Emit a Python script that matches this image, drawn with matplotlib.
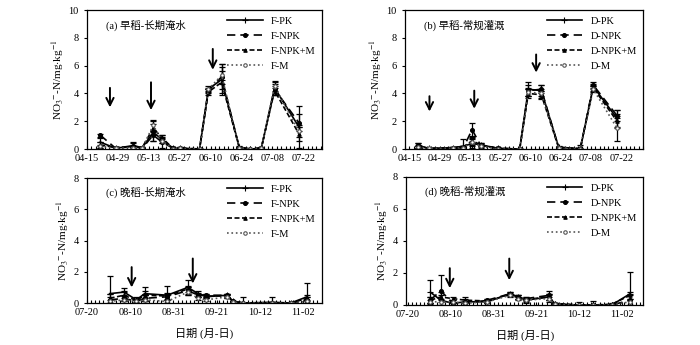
import datetime as dt

import matplotlib

matplotlib.use("Agg")
import matplotlib.pyplot as plt
from matplotlib.ticker import FixedLocator, MultipleLocator

plt.rcParams["font.family"] = ["Liberation Serif", "Noto Sans CJK SC"]
plt.rcParams["mathtext.fontset"] = "stix"
plt.rcParams["font.size"] = 7.5

# ---- early rice, continuous flooding (a) ----
a_dates = ["04-21", "04-28", "05-06", "05-10", "05-15", "05-19", "05-24", "05-27",
           "06-05", "06-09", "06-15", "06-23", "06-28", "07-03", "07-09", "07-20"]
a_pk = [0.5, 0.05, 0.25, 0.1, 1.2, 0.7, 0.05, 0.05, 0.0, 4.3, 5.0, 0.15, 0.0, 0.05, 4.4, 1.6]
a_npk = [1.0, 0.05, 0.2, 0.05, 1.0, 0.5, 0.05, 0.1, 0.0, 4.2, 5.2, 0.1, 0.0, 0.05, 4.3, 1.9]
a_npkm = [0.3, 0.1, 0.15, 0.1, 1.5, 0.8, 0.05, 0.05, 0.0, 4.1, 4.8, 0.1, 0.0, 0.1, 4.2, 1.1]
a_m = [0.2, 0.05, 0.1, 0.05, 1.7, 0.6, 0.0, 0.05, 0.0, 4.3, 5.3, 0.1, 0.0, 0.05, 4.5, 1.3]
a_pk_err = [0.3, 0.1, 0.25, 0.05, 0.6, 0.3, 0.05, 0.1, 0.0, 0.2, 1.1, 0.05, 0.0, 0.05, 0.5, 1.5]
a_npk_err = [0.1, 0.05, 0.2, 0.05, 0.4, 0.4, 0.05, 0.05, 0.0, 0.15, 0.9, 0.05, 0.0, 0.05, 0.4, 0.6]
a_npkm_err = [0.2, 0.05, 0.1, 0.05, 0.5, 0.2, 0.05, 0.05, 0.0, 0.2, 0.8, 0.05, 0.0, 0.05, 0.3, 0.5]
a_m_err = [0.1, 0.05, 0.1, 0.05, 0.4, 0.2, 0.0, 0.05, 0.0, 0.1, 0.6, 0.05, 0.0, 0.05, 0.3, 0.4]

# ---- early rice, conventional irrigation (b) ----
b_dates = ["04-19", "04-24", "05-05", "05-10", "05-14", "05-18", "05-26",
           "06-05", "06-09", "06-15", "06-23", "07-03", "07-09", "07-20"]
b_pk = [0.25, 0.05, 0.1, 0.2, 0.4, 0.3, 0.05, 0.0, 4.3, 4.2, 0.15, 0.0, 4.5, 2.2]
b_npk = [0.3, 0.0, 0.05, 0.1, 1.4, 0.25, 0.05, 0.0, 4.2, 4.3, 0.1, 0.0, 4.6, 2.4]
b_npkm = [0.2, 0.05, 0.1, 0.15, 0.6, 0.3, 0.05, 0.0, 4.0, 3.9, 0.1, 0.05, 4.4, 2.0]
b_m = [0.15, 0.05, 0.05, 0.1, 0.5, 0.2, 0.0, 0.0, 4.1, 4.0, 0.1, 0.0, 4.3, 1.5]
b_pk_err = [0.15, 0.05, 0.05, 0.5, 0.3, 0.1, 0.05, 0.0, 0.5, 0.4, 0.05, 0.3, 0.2, 0.6]
b_npk_err = [0.1, 0.0, 0.05, 0.1, 0.45, 0.1, 0.05, 0.0, 0.4, 0.3, 0.05, 0.0, 0.2, 0.4]
b_npkm_err = [0.1, 0.05, 0.05, 0.1, 0.3, 0.1, 0.05, 0.0, 0.3, 0.3, 0.05, 0.05, 0.2, 0.5]
b_m_err = [0.05, 0.05, 0.05, 0.1, 0.3, 0.1, 0.0, 0.0, 0.3, 0.3, 0.05, 0.0, 0.2, 0.9]

# ---- late rice, continuous flooding (c) ----
c_dates = ["07-31", "08-07", "08-13", "08-17", "08-28", "09-07", "09-12", "09-16",
           "09-26", "09-29", "10-04", "10-18", "10-27", "11-04"]
c_pk = [0.6, 0.7, 0.2, 0.6, 0.5, 1.0, 0.6, 0.4, 0.5, 0.1, 0.0, 0.05, 0.0, 0.4]
c_npk = [0.2, 0.3, 0.1, 0.3, 0.4, 0.8, 0.5, 0.5, 0.5, 0.1, 0.0, 0.0, 0.0, 0.2]
c_npkm = [0.3, 0.5, 0.15, 0.5, 0.45, 0.9, 0.55, 0.45, 0.45, 0.1, 0.0, 0.0, 0.0, 0.3]
c_m = [0.1, 0.2, 0.1, 0.2, 0.1, 0.7, 0.3, 0.2, 0.4, 0.05, 0.0, 0.0, 0.0, 0.1]
c_pk_err = [1.1, 0.25, 0.2, 0.45, 0.6, 0.5, 0.2, 0.1, 0.1, 0.05, 0.4, 0.35, 0.05, 0.9]
c_npk_err = [0.2, 0.2, 0.1, 0.2, 0.2, 0.2, 0.1, 0.1, 0.1, 0.05, 0.0, 0.0, 0.0, 0.2]
c_npkm_err = [0.3, 0.3, 0.1, 0.3, 0.2, 0.2, 0.1, 0.1, 0.1, 0.05, 0.0, 0.0, 0.0, 0.2]
c_m_err = [0.1, 0.1, 0.1, 0.1, 0.1, 0.2, 0.1, 0.1, 0.1, 0.05, 0.0, 0.0, 0.0, 0.1]

# ---- late rice, conventional irrigation (d) ----
d_dates = ["07-31", "08-05", "08-11", "08-17", "08-28", "09-08", "09-12", "09-16",
           "09-27", "09-30", "10-12", "10-19", "10-28", "11-06"]
d_pk = [0.8, 0.3, 0.1, 0.2, 0.2, 0.7, 0.5, 0.3, 0.5, 0.05, 0.0, 0.0, 0.0, 0.7]
d_npk = [0.3, 0.9, 0.1, 0.1, 0.3, 0.7, 0.5, 0.4, 0.6, 0.05, 0.0, 0.0, 0.0, 0.3]
d_npkm = [0.3, 0.5, 0.4, 0.3, 0.25, 0.65, 0.5, 0.35, 0.5, 0.1, 0.0, 0.0, 0.05, 0.6]
d_m = [0.2, 0.2, 0.2, 0.1, 0.2, 0.6, 0.4, 0.3, 0.4, 0.05, 0.0, 0.0, 0.0, 0.2]
d_pk_err = [0.75, 0.3, 0.1, 0.3, 0.1, 0.1, 0.1, 0.2, 0.2, 0.05, 0.2, 0.25, 0.05, 1.35]
d_npk_err = [0.2, 1.0, 0.1, 0.1, 0.1, 0.1, 0.1, 0.1, 0.3, 0.05, 0.0, 0.0, 0.0, 0.3]
d_npkm_err = [0.2, 0.3, 0.1, 0.1, 0.1, 0.1, 0.1, 0.1, 0.2, 0.05, 0.0, 0.0, 0.05, 0.2]
d_m_err = [0.1, 0.2, 0.1, 0.1, 0.1, 0.1, 0.1, 0.1, 0.2, 0.05, 0.0, 0.0, 0.0, 0.2]

early_ticks = ["04-15", "04-29", "05-13", "05-27", "06-10", "06-24", "07-08", "07-22"]
late_ticks = ["07-20", "08-10", "08-31", "09-21", "10-12", "11-02"]


def day(md, start):
    m, d = (int(v) for v in md.split("-"))
    s_m, s_d = (int(v) for v in start.split("-"))
    return (dt.date(2015, m, d) - dt.date(2015, s_m, s_d)).days


def draw(ax, start, dates, series, errs, labels, ticks, xlim, ymax, ystep, title, arrows):
    x = [day(s, start) for s in dates]
    styles = [
        dict(ls="-", marker="+", ms=4, color="black", mfc="black"),
        dict(ls=(0, (5, 3)), marker="o", ms=2.8, color="black", mfc="black"),
        dict(ls=(0, (3, 1.5)), marker="^", ms=2.5, color="black", mfc="black"),
        dict(ls=":", marker="o", ms=2.5, color="#555555", mfc="white"),
    ]
    for vals, err, lab, st in zip(series, errs, labels, styles):
        ax.errorbar(x, vals, yerr=err, fmt="none", capsize=2.5, elinewidth=0.9,
                    ecolor="black", capthick=0.9)
        ax.plot(x, vals, label=lab, lw=1.2, mew=0.8, **st)
    ax.set_xlim(*xlim)
    ax.set_ylim(0, ymax)
    ax.yaxis.set_major_locator(MultipleLocator(ystep))
    ax.xaxis.set_major_locator(FixedLocator([day(t, start) for t in ticks]))
    ax.set_xticklabels(ticks)
    ax.xaxis.set_minor_locator(MultipleLocator(2))
    ax.tick_params(axis="x", which="both", direction="in", length=2.5, width=0.8)
    ax.tick_params(axis="y", direction="out", length=2.5, width=0.8)
    for sp in ax.spines.values():
        sp.set_linewidth(0.9)
    ax.set_ylabel(r"NO$_3$$^{-}$-N/mg$\cdot$kg$^{-1}$", labelpad=2, fontsize=8)
    ax.text(0.08, 0.89, title, transform=ax.transAxes, fontsize=7.5, va="center")
    for ax_day, y0, y1 in arrows:
        ax.annotate("", xy=(ax_day, y1), xytext=(ax_day, y0),
                    arrowprops=dict(arrowstyle="->,head_length=0.7,head_width=0.35", lw=1.4,
                                    color="black", shrinkA=0, shrinkB=0))
    ax.legend(loc="upper right", frameon=False, handlelength=3.4, labelspacing=0.55,
              borderaxespad=0.2, fontsize=7.5)


fig = plt.figure(figsize=(7, 3.45), dpi=100)
ax_a = fig.add_axes([0.1243, 0.568, 0.3357, 0.403])
ax_b = fig.add_axes([0.5786, 0.568, 0.34, 0.403])
ax_c = fig.add_axes([0.1243, 0.1217, 0.3357, 0.362])
ax_d = fig.add_axes([0.58, 0.116, 0.339, 0.371])

f_labels = ["F-PK", "F-NPK", "F-NPK+M", "F-M"]
d_labels = ["D-PK", "D-NPK", "D-NPK+M", "D-M"]

draw(ax_a, "04-15", a_dates, [a_pk, a_npk, a_npkm, a_m],
     [a_pk_err, a_npk_err, a_npkm_err, a_m_err], f_labels, early_ticks, (0, 106.5), 10, 2,
     "(a) 早稻-长期淹水", [(10.4, 4.4, 3.0), (29, 4.8, 2.8), (57, 7.2, 5.7)])
draw(ax_b, "04-15", b_dates, [b_pk, b_npk, b_npkm, b_m],
     [b_pk_err, b_npk_err, b_npkm_err, b_m_err], d_labels, early_ticks, (-2, 108), 10, 2,
     "(b) 早稻-常规灌溉", [(9.3, 3.8, 2.7), (30, 4.2, 2.9), (58.6, 6.8, 5.5)])
draw(ax_c, "07-20", c_dates, [c_pk, c_npk, c_npkm, c_m],
     [c_pk_err, c_npk_err, c_npkm_err, c_m_err], f_labels, late_ticks, (0, 114.2), 8, 2,
     "(c) 晚稻-长期淹水", [(21.7, 2.3, 1.0), (51.4, 2.85, 1.25)])
draw(ax_d, "07-20", d_dates, [d_pk, d_npk, d_npkm, d_m],
     [d_pk_err, d_npk_err, d_npkm_err, d_m_err], d_labels, late_ticks, (-1, 115.5), 8, 2,
     "(d) 晚稻-常规灌溉", [(20.5, 2.3, 1.05), (49.7, 2.9, 1.55)])

for ax in (ax_c, ax_d):
    ax.set_xlabel("日期 (月-日)", labelpad=8, fontsize=8)

fig.savefig("out.png", dpi=100)
